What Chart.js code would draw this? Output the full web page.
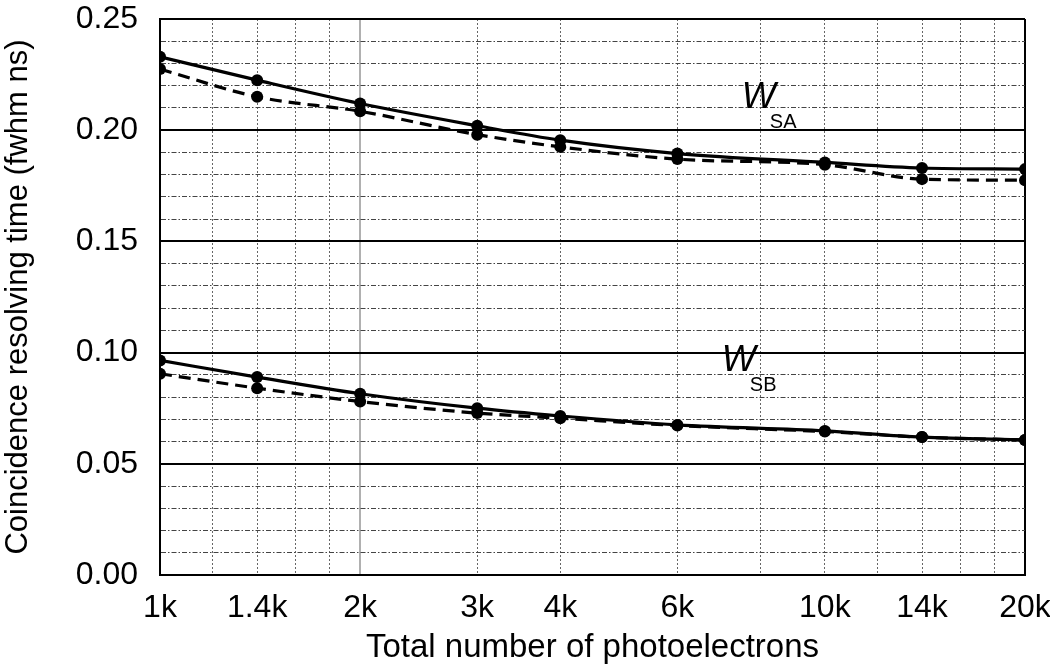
<!DOCTYPE html>
<html>
<head>
<meta charset="utf-8">
<script src="https://cdn.jsdelivr.net/npm/chart.js@4/dist/chart.umd.min.js"></script>
<style>
  html, body { margin: 0; padding: 0; background: #fff; }
  #wrap { width: 1050px; height: 669px; }
</style>
</head>
<body>
<div id="wrap"><canvas id="chart"></canvas></div>
<script>
// photoelectron counts (x) and resolving times (y, ns fwhm)
const photoelectrons = [1000, 1400, 2000, 3000, 4000, 6000, 10000, 14000, 20000]
const saSolid  = [0.233, 0.2225, 0.212, 0.202, 0.1955, 0.1895, 0.1855, 0.183, 0.1825]
const saDashed = [0.2275, 0.215, 0.2085, 0.198, 0.1925, 0.187, 0.1845, 0.178, 0.1775]
const sbSolid  = [0.0965, 0.089, 0.0815, 0.075, 0.0715, 0.0675, 0.0648, 0.062, 0.0607]
const sbDashed = [0.0905, 0.084, 0.078, 0.0728, 0.0705, 0.0672, 0.0645, 0.062, 0.0607]

// x grid lines and the ones that get a label
const xGrid = [1000, 1200, 1400, 1600, 1800, 2000, 3000, 4000, 6000, 8000, 10000, 12000, 14000, 16000, 18000, 20000]
const xTickLabels = { 1000: "1k", 1400: "1.4k", 2000: "2k", 3000: "3k", 4000: "4k", 6000: "6k", 10000: "10k", 14000: "14k", 20000: "20k" }

const FONT = "'Liberation Sans', Arial, Helvetica, sans-serif"

const toPoints = (ys) => photoelectrons.map((x, i) => ({ x: x, y: ys[i] }))

const isMajorY = (v) => Math.round(v * 100) % 5 === 0

function series(label, ys, dashed) {
  return {
    label: label,
    data: toPoints(ys),
    borderColor: "#000",
    backgroundColor: "#000",
    borderWidth: 3.2,
    borderDash: dashed ? [12, 7] : [],
    pointRadius: 6,
    pointBackgroundColor: "#000",
    pointBorderWidth: 0,
    cubicInterpolationMode: "monotone",
    fill: false,
  }
}

// W_SA / W_SB labels, placed in data space
const annotations = [
  { x: 7500, y: 0.21, sub: "SA" },
  { x: 7000, y: 0.0917, sub: "SB" },
]

const labelPlugin = {
  id: "subscriptLabels",
  afterDatasetsDraw(chart) {
    const { ctx, scales } = chart
    ctx.save()
    ctx.fillStyle = "#000"
    ctx.textBaseline = "alphabetic"
    ctx.textAlign = "left"
    annotations.forEach((a) => {
      const px = scales.x.getPixelForValue(a.x)
      const py = scales.y.getPixelForValue(a.y)
      ctx.font = "italic 36px " + FONT
      ctx.fillText("W", px, py)
      ctx.font = "20px " + FONT
      ctx.fillText(a.sub, px + 28, py + 20)
    })
    ctx.restore()
  },
}

new Chart(document.getElementById("chart"), {
  type: "line",
  data: {
    datasets: [
      series("W_SA", saSolid, false),
      series("W_SA (dashed)", saDashed, true),
      series("W_SB", sbSolid, false),
      series("W_SB (dashed)", sbDashed, true),
    ],
  },
  options: {
    responsive: true,
    maintainAspectRatio: false,
    animation: false,
    layout: { padding: { top: 19, right: 25, left: 0, bottom: 0 } },
    plugins: {
      legend: { display: false },
      tooltip: { enabled: false },
    },
    scales: {
      x: {
        type: "logarithmic",
        min: 1000,
        max: 20000,
        afterBuildTicks: (scale) => {
          scale.ticks = xGrid.map((v) => ({ value: v }))
        },
        afterFit: (scale) => {
          scale.height = 94
          scale.paddingLeft = 0
          scale.paddingRight = 0
        },
        ticks: {
          autoSkip: false,
          maxRotation: 0,
          padding: 14,
          color: "#000",
          font: { family: FONT, size: 32 },
          callback: (v) => xTickLabels[v] || "",
        },
        grid: {
          drawTicks: false,
          color: (c) => {
            const v = c.tick && c.tick.value
            if (v === 2000) return "#b0b0b0"
            if (v === 1000 || v === 20000) return "#000"
            return "#666"
          },
          lineWidth: (c) => {
            const v = c.tick && c.tick.value
            if (v === 2000) return 2
            if (v === 1000 || v === 20000) return 2
            return 1
          },
        },
        border: {
          display: true,
          color: "#000",
          width: 2,
          dash: (c) => {
            const v = c.tick && c.tick.value
            if (v === undefined || v === 1000 || v === 2000 || v === 20000) return []
            return [2, 2]
          },
        },
        title: {
          display: true,
          text: "Total number of photoelectrons",
          color: "#000",
          font: { family: FONT, size: 33 },
          padding: { top: 0, bottom: 1 },
        },
      },
      y: {
        min: 0,
        max: 0.25,
        afterFit: (scale) => {
          scale.width = 160
          scale.paddingTop = 0
          scale.paddingBottom = 0
        },
        ticks: {
          stepSize: 0.01,
          autoSkip: false,
          padding: 22,
          color: "#000",
          font: { family: FONT, size: 32 },
          callback: (v) => (isMajorY(v) ? v.toFixed(2) : ""),
        },
        grid: {
          drawTicks: false,
          color: (c) => (c.tick && isMajorY(c.tick.value) ? "#000" : "#444"),
          lineWidth: (c) => (c.tick && isMajorY(c.tick.value) ? 2 : 1),
        },
        border: {
          display: true,
          color: "#000",
          width: 2,
          dash: (c) => (!c.tick || isMajorY(c.tick.value) ? [] : [5, 2, 1.5, 2]),
        },
        title: {
          display: true,
          text: "Coincidence resolving time (fwhm ns)",
          color: "#000",
          font: { family: FONT, size: 31 },
          padding: { top: 0, bottom: 0 },
        },
      },
    },
  },
  plugins: [labelPlugin],
})
</script>
</body>
</html>
